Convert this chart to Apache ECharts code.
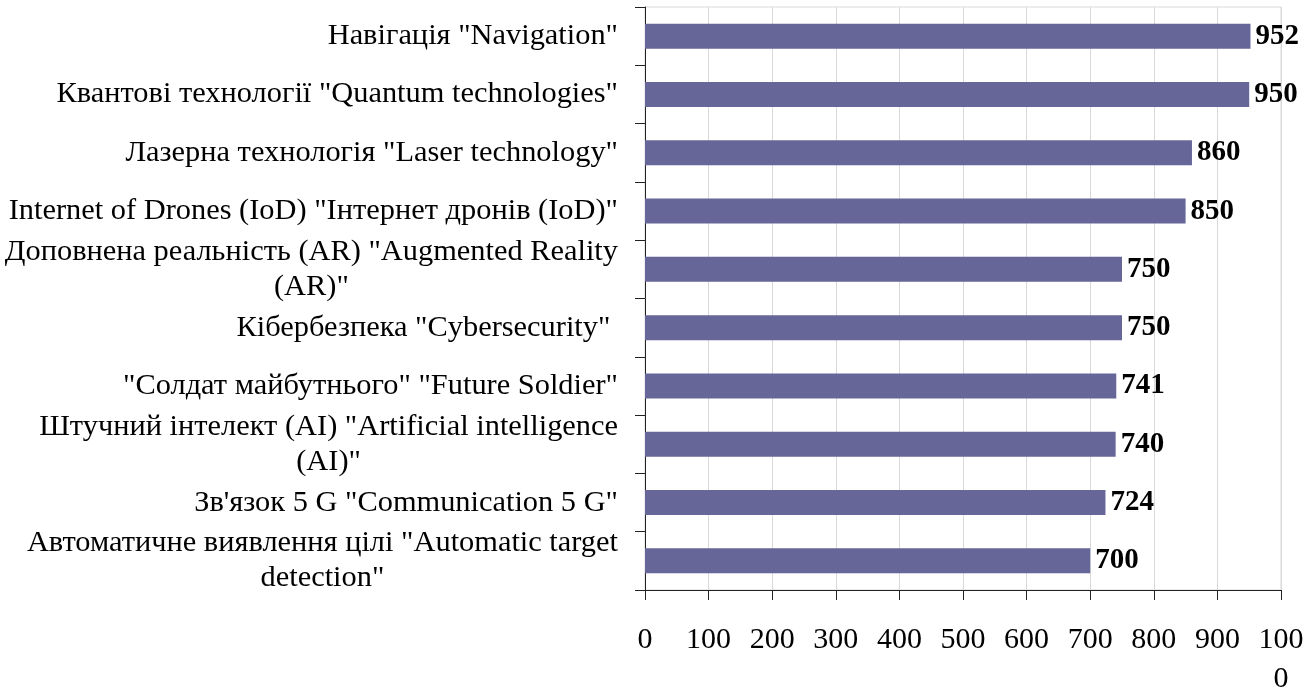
<!DOCTYPE html>
<html>
<head>
<meta charset="utf-8">
<script src="https://cdn.jsdelivr.net/npm/echarts@6/dist/echarts.min.js"></script>
<style>
html,body{margin:0;padding:0;background:#fff;}
#chart{width:1314px;height:690px;}
</style>
</head>
<body>
<div id="chart"></div>
<script>
const categories = [
  'Навігація "Navigation"',
  'Квантові технології "Quantum technologies"',
  'Лазерна технологія "Laser technology"',
  'Internet of Drones (IoD) "Інтернет дронів (IoD)"',
  'Доповнена реальність (AR) "Augmented Reality\n(AR)"',
  'Кібербезпека "Cybersecurity" ',
  '"Солдат майбутнього" "Future Soldier"',
  'Штучний інтелект (AI) "Artificial intelligence\n(AI)"',
  'Зв\'язок 5 G "Communication 5 G"',
  'Автоматичне виявлення цілі "Automatic target\ndetection"'
];
const values = [952, 950, 860, 850, 750, 750, 741, 740, 724, 700];
const xMin = 0, xMax = 1000, xStep = 100;

const FONT = '"Liberation Serif", "Times New Roman", serif';
const chart = echarts.init(document.getElementById('chart'), null, {renderer: 'canvas'});
chart.setOption({
  animation: false,
  backgroundColor: '#ffffff',
  grid: {left: 645, right: 33, top: 7, bottom: 100, containLabel: false,
         outerBoundsMode: 'none',
         show: true, borderColor: '#d9d9d9', borderWidth: 1},
  xAxis: {
    type: 'value', min: xMin, max: xMax, interval: xStep,
    axisLine: {show: true, lineStyle: {color: '#222', width: 1}},
    axisTick: {show: true, length: 10, lineStyle: {color: '#222'}},
    splitLine: {show: true, lineStyle: {color: '#d9d9d9', width: 1}},
    axisLabel: {
      fontFamily: FONT, fontSize: 30, color: '#000', lineHeight: 39, margin: 31,
      formatter: v => (v === 1000 ? '100\n0' : String(v))
    }
  },
  yAxis: {
    type: 'category', inverse: true, data: categories,
    axisLine: {show: true, lineStyle: {color: '#222', width: 1}},
    axisTick: {show: true, length: 10, lineStyle: {color: '#222'}},
    splitLine: {show: false},
    axisLabel: {
      margin: 27, color: '#000',
      formatter: v => v.split('\n').map(s => '{c|' + s + '}').join('\n'),
      rich: {c: {fontFamily: FONT, fontSize: 30.4, lineHeight: 35, color: '#000', align: 'center'}}
    }
  },
  series: [{
    type: 'bar', data: values, barWidth: 25,
    itemStyle: {color: '#666699'},
    label: {show: true, position: 'right', distance: 5, color: '#000',
            fontFamily: FONT, fontSize: 29, fontWeight: 'bold'}
  }]
});
</script>
</body>
</html>
